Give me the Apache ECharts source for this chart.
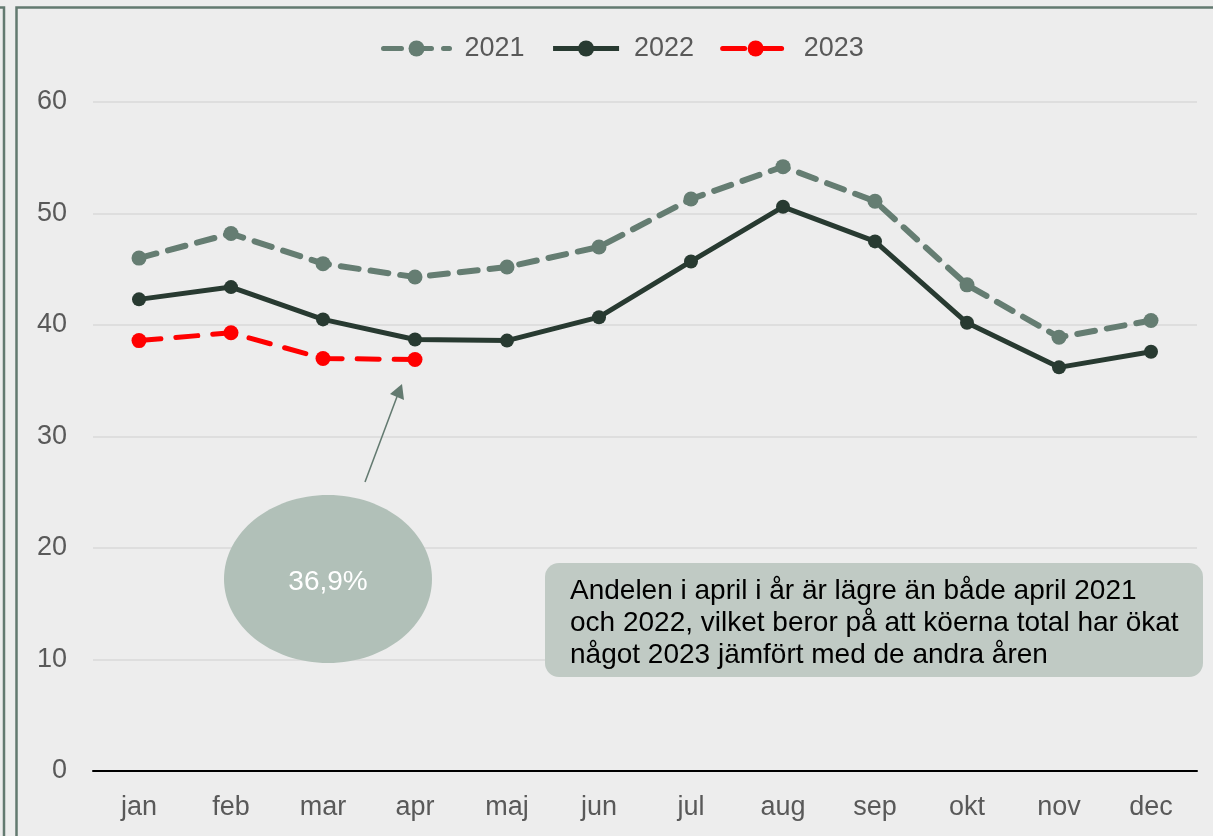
<!DOCTYPE html>
<html>
<head>
<meta charset="utf-8">
<script src="https://cdn.jsdelivr.net/npm/echarts@6/dist/echarts.min.js"></script>
<style>
  html, body { margin: 0; padding: 0; background: #ededed; }
  #chart { width: 1213px; height: 836px; }
</style>
</head>
<body>
<div id="chart"></div>
<script>
// manader
var months = ["jan", "feb", "mar", "apr", "maj", "jun", "jul", "aug", "sep", "okt", "nov", "dec"];
// andel per ar (%)
var values2021 = [46.0, 48.2, 45.5, 44.3, 45.2, 47.0, 51.3, 54.2, 51.1, 43.6, 38.9, 40.4];
var values2022 = [42.3, 43.4, 40.5, 38.7, 38.6, 40.7, 45.7, 50.6, 47.5, 40.2, 36.2, 37.6];
var values2023 = [38.6, 39.3, 37.0, 36.9];
var yTicks = [0, 10, 20, 30, 40, 50, 60];

var labelFont = "Liberation Sans, Arial, sans-serif";
var myChart = echarts.init(document.getElementById("chart"));

myChart.setOption({
  backgroundColor: "#ededed",
  animation: false,
  textStyle: { fontFamily: labelFont },
  grid: { left: 93, right: 16, top: 102, bottom: 65 },
  legend: {
    top: 30,
    left: 376,
    itemWidth: 66,
    itemHeight: 20,
    itemGap: 26,
    textStyle: { fontSize: 27, color: "#595959", fontFamily: labelFont, padding: [0, 0, 0, 10] },
    data: [
      { name: "2021", lineStyle: { width: 5 } },
      { name: "2022", lineStyle: { width: 5 } },
      { name: "2023", lineStyle: { width: 5 } }
    ]
  },
  xAxis: {
    type: "category",
    data: months,
    boundaryGap: true,
    axisLine: { lineStyle: { color: "#000000", width: 2 } },
    axisTick: { show: false },
    axisLabel: { fontSize: 27, color: "#595959", margin: 23 }
  },
  yAxis: {
    type: "value",
    min: yTicks[0],
    max: yTicks[yTicks.length - 1],
    interval: 10,
    axisLine: { show: false },
    axisTick: { show: false },
    axisLabel: { fontSize: 27, color: "#595959", margin: 26 },
    splitLine: { lineStyle: { color: "#d9d9d9", width: 1.5 } }
  },
  series: [
    {
      name: "2021",
      type: "line",
      data: values2021,
      symbol: "circle",
      symbolSize: 15,
      itemStyle: { color: "#657d72" },
      lineStyle: { color: "#657d72", width: 6, type: [18, 12], cap: "round" }
    },
    {
      name: "2022",
      type: "line",
      data: values2022,
      symbol: "circle",
      symbolSize: 14,
      itemStyle: { color: "#283a31" },
      lineStyle: { color: "#283a31", width: 5 }
    },
    {
      name: "2023",
      type: "line",
      data: values2023,
      symbol: "circle",
      symbolSize: 15,
      z: 3,
      itemStyle: { color: "#ff0000" },
      lineStyle: { color: "#ff0000", width: 5, type: [22, 15], cap: "round" }
    }
  ],
  graphic: [
    // ram
    { type: "rect", silent: true, z: 10, shape: { x: 16.5, y: 7.5, width: 1220, height: 900 },
      style: { fill: "none", stroke: "#637a70", lineWidth: 2.5 } },
    { type: "polyline", silent: true, z: 10, shape: { points: [[0, 7.5], [4, 7.5], [4, 840]] },
      style: { fill: "none", stroke: "#637a70", lineWidth: 2.5 } },
    // pil
    { type: "line", silent: true, z: 10, shape: { x1: 365, y1: 482, x2: 398, y2: 394 },
      style: { stroke: "#637a70", lineWidth: 1.5 } },
    { type: "polygon", silent: true, z: 10, shape: { points: [[402, 384], [390, 394], [404, 400]] },
      style: { fill: "#637a70" } },
    // ellips
    { type: "ellipse", silent: true, z: 10, shape: { cx: 328, cy: 579, rx: 104, ry: 84 },
      style: { fill: "#b1c0b8" } },
    { type: "text", silent: true, z: 11, x: 328, y: 582,
      style: { text: "36,9%", fill: "#ffffff", font: "28px " + labelFont, align: "center", verticalAlign: "middle" } },
    // kommentar
    { type: "rect", silent: true, z: 10, shape: { x: 545, y: 563, width: 658, height: 114, r: 14 },
      style: { fill: "#c0cac4" } },
    { type: "text", silent: true, z: 11, x: 570, y: 575,
      style: {
        text: "Andelen i april i år är lägre än både april 2021\noch 2022, vilket beror på att köerna total har ökat\nnågot 2023 jämfört med de andra åren",
        fill: "#000000", font: "28px " + labelFont, lineHeight: 32
      } }
  ]
});
</script>
</body>
</html>
